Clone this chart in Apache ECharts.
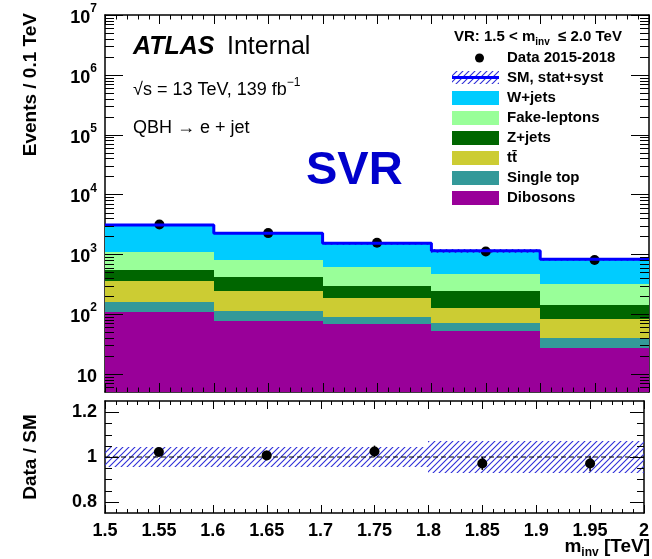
<!DOCTYPE html>
<html><head><meta charset="utf-8">
<script src="https://cdn.jsdelivr.net/npm/echarts@6/dist/echarts.min.js"></script>
<style>html,body{margin:0;padding:0;background:#fff}#c{width:652px;height:559px}</style>
</head><body><div id="c"></div>
<script>
// ---------------- data ----------------
const binEdges    = [1.5, 1.6, 1.7, 1.8, 1.9, 2.0];
const binCenters  = [1.55, 1.65, 1.75, 1.85, 1.95];
const dibosons    = [110, 77, 68, 53, 27];
const singleTop   = [51, 36, 23, 17, 13];
const ttbar       = [201, 134, 93, 58, 42];
const zjets       = [185, 166, 115, 116, 60];
const fakeLeptons = [534, 391, 322, 225, 177];
const wjets       = [2009, 1444, 907, 681, 507];
const dataCounts  = [3158, 2264, 1566, 1117, 802];
const relSyst     = [0.045, 0.045, 0.045, 0.07, 0.07];
const yMajorTicks = [10, 100, 1e3, 1e4, 1e5, 1e6, 1e7];
const ratioTicks  = [0.8, 1.0, 1.2];
const ratioMinorTicks = [0.85, 0.9, 0.95, 1.05, 1.1, 1.15];

const components = [
  {name: 'Dibosons',     vals: dibosons,    color: '#990099'},
  {name: 'Single top',   vals: singleTop,   color: '#339999'},
  {name: 'tt\u0304',     vals: ttbar,       color: '#cccc33'},
  {name: 'Z+jets',       vals: zjets,       color: '#006600'},
  {name: 'Fake-leptons', vals: fakeLeptons, color: '#99ff99'},
  {name: 'W+jets',       vals: wjets,       color: '#00ccff'}
];
const X_MIN = 1.5, X_MAX = 2.0, Y_MIN = 5, Y_MAX = 1e7, R_MIN = 0.75, R_MAX = 1.25;

// axis decoration: log minor ticks and x ticks
const yMinorTicks = [];
for (let e = 0; e < 7; e++) for (let m = 2; m <= 9; m++) {
  const v = m * Math.pow(10, e);
  if (v > Y_MIN && v < Y_MAX) yMinorTicks.push(v);
}
const xMajorTicks = [], xMinorTicks = [];
for (let k = 0; k <= 50; k++) {
  const v = +(X_MIN + k * 0.01).toFixed(2);
  (k % 5 === 0 ? xMajorTicks : xMinorTicks).push(v);
}

// ---------------- helpers ----------------
function hatchCanvas(color, step) {
  const c = document.createElement('canvas'); c.width = step; c.height = step;
  const g = c.getContext('2d'); g.strokeStyle = color; g.lineWidth = 1.1;
  g.beginPath();
  g.moveTo(0, step); g.lineTo(step, 0);
  g.moveTo(-1, 1); g.lineTo(1, -1);
  g.moveTo(step - 1, step + 1); g.lineTo(step + 1, step - 1);
  g.stroke();
  return c;
}
const hatch = {image: hatchCanvas('#2f2fd8', 6), repeat: 'repeat'};
const FONT = '"Liberation Sans", Arial, Helvetica, sans-serif';

function rectRender(fill) {
  return (params, api) => {
    const p0 = api.coord([api.value(0), api.value(3)]);
    const p1 = api.coord([api.value(1), api.value(2)]);
    const x0 = Math.round(p0[0]), x1 = Math.round(p1[0]), y0 = Math.round(p0[1]), y1 = Math.round(p1[1]);
    return {type: 'rect', shape: {x: x0, y: y0, width: x1 - x0, height: y1 - y0}, style: {fill: fill}};
  };
}
function errRender(params, api) {
  const a = api.coord([api.value(0), api.value(1)]);
  const b = api.coord([api.value(0), api.value(2)]);
  return {type: 'line', shape: {x1: a[0], y1: a[1], x2: b[0], y2: b[1]}, style: {stroke: '#000', lineWidth: 1.5}};
}
// ticks: [value, side(0 left,1 right,2 bottom,3 top), length]
function tickRender(xRef, yRef) {
  return (params, api) => {
    const cs = params.coordSys, v = api.value(0), side = api.value(1), len = api.value(2);
    let x1, y1, x2, y2;
    if (side < 2) {
      const p = api.coord([xRef, v]);
      y1 = y2 = Math.round(p[1]) + 0.5;
      if (side === 0) { x1 = cs.x; x2 = cs.x + len; } else { x1 = cs.x + cs.width; x2 = x1 - len; }
    } else {
      const p = api.coord([v, yRef]);
      x1 = x2 = Math.round(p[0]) + 0.5;
      if (side === 2) { y1 = cs.y + cs.height; y2 = y1 - len; } else { y1 = cs.y; y2 = y1 + len; }
    }
    return {type: 'line', shape: {x1, y1, x2, y2}, style: {stroke: '#000', lineWidth: 1}};
  };
}
function tickData(yMaj, yMin, yMajLen, yMinLen, xMajLen, xMinLen) {
  const d = [];
  [0, 1].forEach(s => { yMaj.forEach(v => d.push([v, s, yMajLen])); yMin.forEach(v => d.push([v, s, yMinLen])); });
  [2, 3].forEach(s => { xMajorTicks.forEach(v => d.push([v, s, xMajLen])); xMinorTicks.forEach(v => d.push([v, s, xMinLen])); });
  return d;
}

// stacked rectangles
const totals = binCenters.map(() => 0);
const stackSeries = components.map(comp => {
  const data = comp.vals.map((v, i) => {
    const lo = totals[i] === 0 ? Y_MIN : totals[i];
    totals[i] += v;
    return [binEdges[i], binEdges[i + 1], lo, totals[i]];
  });
  return {type: 'custom', name: comp.name, xAxisIndex: 0, yAxisIndex: 0, clip: true, silent: true,
          encode: {x: [0, 1], y: [2, 3]}, data, renderItem: rectRender(comp.color)};
});

const upperBand = totals.map((t, i) => [binEdges[i], binEdges[i + 1], t * (1 - relSyst[i]), t * (1 + relSyst[i])]);
const ratioBand = totals.map((t, i) => [binEdges[i], binEdges[i + 1], 1 - relSyst[i], 1 + relSyst[i]]);
const stepLine  = totals.map((t, i) => [binEdges[i], t]).concat([[binEdges[5], totals[4]]]);
const dataPts   = dataCounts.map((d, i) => [binCenters[i], d]);
const dataErr   = dataCounts.map((d, i) => [binCenters[i], d - Math.sqrt(d), d + Math.sqrt(d)]);
const ratioPts  = dataCounts.map((d, i) => [binCenters[i], d / totals[i]]);
const ratioErr  = dataCounts.map((d, i) => [binCenters[i], (d - Math.sqrt(d)) / totals[i], (d + Math.sqrt(d)) / totals[i]]);

// ---------------- axes ----------------
const labelStyle = {color: '#000', fontFamily: FONT, fontWeight: 'bold', fontSize: 18};
const frameLine = {show: true, onZero: false, lineStyle: {color: '#000', width: 1.5}};
function xAx(grid, pos, showLabel) {
  return {type: 'value', gridIndex: grid, position: pos, min: X_MIN, max: X_MAX, interval: 0.05,
    axisLine: frameLine, axisTick: {show: false}, minorTick: {show: false}, splitLine: {show: false},
    axisLabel: showLabel ? Object.assign({show: true, margin: 9, hideOverlap: false,
      formatter: v => String(+v.toFixed(2))}, labelStyle) : {show: false}};
}
function logAx(pos, showLabel) {
  return {type: 'log', logBase: 10, gridIndex: 0, position: pos, min: Y_MIN, max: Y_MAX,
    axisLine: frameLine, axisTick: {show: false}, minorTick: {show: false}, splitLine: {show: false},
    axisLabel: showLabel ? {
      show: true, margin: 8, customValues: yMajorTicks,
      formatter: v => { const e = Math.round(Math.log10(v)); return e === 1 ? '{b|10}' : '{b|10}{s|' + e + '}'; },
      rich: {
        b: {fontFamily: FONT, fontWeight: 'bold', fontSize: 18, color: '#000', lineHeight: 24, verticalAlign: 'bottom'},
        s: {fontFamily: FONT, fontWeight: 'bold', fontSize: 12, color: '#000', lineHeight: 14, verticalAlign: 'top'}
      }} : {show: false}};
}
function ratioAx(pos, showLabel) {
  return {type: 'value', gridIndex: 1, position: pos, min: R_MIN, max: R_MAX,
    axisLine: frameLine, axisTick: {show: false}, minorTick: {show: false}, splitLine: {show: false},
    axisLabel: showLabel ? Object.assign({show: true, margin: 8, customValues: ratioTicks,
      formatter: v => String(+(+v).toFixed(2))}, labelStyle) : {show: false}};
}

// ---------------- texts / legend ----------------
const g = [];
function txt(x, y, text, font, fill) {
  return {type: 'text', x: x, y: y, silent: true,
    style: {text: text, font: font, fill: fill || '#000', align: 'left', verticalAlign: 'middle', textAlign: 'left', textVerticalAlign: 'middle'}};
}
g.push(txt(133, 47, 'ATLAS', 'italic bold 25px ' + FONT));
g.push(txt(227, 47, 'Internal', '25px ' + FONT));
g.push({type: 'text', x: 133, y: 88, silent: true, style: {
  text: '{n|\u221As = 13 TeV, 139 fb}{s|\u22121}', align: 'left', verticalAlign: 'middle',
  rich: {n: {font: '18px ' + FONT, fill: '#000', lineHeight: 22, verticalAlign: 'bottom'},
         s: {font: '12px ' + FONT, fill: '#000', lineHeight: 12, verticalAlign: 'top'}}}});
g.push(txt(133, 128, 'QBH \u2192 e + jet', '18px ' + FONT));
g.push(txt(306, 171, 'SVR', 'bold 47px ' + FONT, '#0000cc'));
g.push({type: 'text', x: 31, y: 13, rotation: Math.PI / 2, silent: true,
  style: {text: 'Events / 0.1 TeV', font: 'bold 19px ' + FONT, fill: '#000', align: 'right', verticalAlign: 'middle', textAlign: 'right', textVerticalAlign: 'middle'}});
g.push({type: 'text', x: 31, y: 457, rotation: Math.PI / 2, silent: true,
  style: {text: 'Data / SM', font: 'bold 19px ' + FONT, fill: '#000', align: 'center', verticalAlign: 'middle', textAlign: 'center', textVerticalAlign: 'middle'}});
g.push({type: 'text', x: 650, y: 548, silent: true, style: {
  text: '{n|m}{s|inv}{n| [TeV]}', align: 'right', verticalAlign: 'middle',
  rich: {n: {font: 'bold 19px ' + FONT, fill: '#000', lineHeight: 22, verticalAlign: 'top'},
         s: {font: 'bold 12px ' + FONT, fill: '#000', lineHeight: 14, verticalAlign: 'bottom'}}}});
g.push({type: 'text', x: 454, y: 38, silent: true, style: {
  text: '{n|VR: 1.5 < m}{s|inv}{n|  \u2264 2.0 TeV}', align: 'left', verticalAlign: 'middle',
  rich: {n: {font: 'bold 15px ' + FONT, fill: '#000', lineHeight: 18, verticalAlign: 'top'},
         s: {font: 'bold 10px ' + FONT, fill: '#000', lineHeight: 12, verticalAlign: 'bottom'}}}});
const legX = 452, legW = 47, legH = 14, legTextX = 507;
g.push({type: 'circle', silent: true, shape: {cx: legX + legW / 2 + 4, cy: 58, r: 4.5}, style: {fill: '#000'}});
g.push(txt(legTextX, 58, 'Data 2015-2018', 'bold 15px ' + FONT));
g.push({type: 'rect', silent: true, shape: {x: legX, y: 71, width: legW, height: 13}, style: {fill: hatch}});
g.push({type: 'line', silent: true, shape: {x1: legX, y1: 77.5, x2: legX + legW, y2: 77.5}, style: {stroke: '#0000ff', lineWidth: 3}});
g.push(txt(legTextX, 78, 'SM, stat+syst', 'bold 15px ' + FONT));
components.slice().reverse().forEach((c, k) => {
  const cy = 98 + 20 * k;
  g.push({type: 'rect', silent: true, shape: {x: legX, y: cy - legH / 2, width: legW, height: legH}, style: {fill: c.color}});
  g.push(txt(legTextX, cy, c.name, 'bold 15px ' + FONT));
});

// ---------------- option ----------------
const option = {
  animation: false,
  backgroundColor: '#fff',
  grid: [
    {left: 105, top: 15, width: 544, height: 377},
    {left: 105, top: 401, width: 544, height: 112}
  ],
  xAxis: [xAx(0, 'bottom', false), xAx(0, 'top', false), xAx(1, 'bottom', true), xAx(1, 'top', false)],
  yAxis: [logAx('left', true), logAx('right', false), ratioAx('left', true), ratioAx('right', false)],
  series: stackSeries.concat([
    {type: 'custom', name: 'SM band', xAxisIndex: 0, yAxisIndex: 0, clip: true, silent: true,
     encode: {x: [0, 1], y: [2, 3]}, data: upperBand, renderItem: rectRender(hatch)},
    {type: 'line', name: 'SM', xAxisIndex: 0, yAxisIndex: 0, step: 'end', symbol: 'none', silent: true,
     data: stepLine, lineStyle: {color: '#0000ff', width: 3}, clip: true},
    {type: 'custom', name: 'Data err', xAxisIndex: 0, yAxisIndex: 0, silent: true,
     encode: {x: 0, y: [1, 2]}, data: dataErr, renderItem: errRender},
    {type: 'scatter', name: 'Data', xAxisIndex: 0, yAxisIndex: 0, symbol: 'circle', symbolSize: 10, silent: true,
     data: dataPts, itemStyle: {color: '#000', opacity: 1}},
    {type: 'custom', name: 'upper ticks', xAxisIndex: 0, yAxisIndex: 0, silent: true, clip: false, z: 10,
     encode: {x: 0, y: 0}, data: tickData(yMajorTicks, yMinorTicks, 18, 9, 9, 4.5), renderItem: tickRender(X_MIN, 100)},
    // ratio panel
    {type: 'custom', name: 'Ratio band', xAxisIndex: 2, yAxisIndex: 2, clip: true, silent: true,
     encode: {x: [0, 1], y: [2, 3]}, data: ratioBand, renderItem: rectRender(hatch)},
    {type: 'line', name: 'unity', xAxisIndex: 2, yAxisIndex: 2, symbol: 'none', silent: true,
     data: [[X_MIN, 1], [X_MAX, 1]], lineStyle: {color: '#000', width: 1, type: [5, 3]}},
    {type: 'custom', name: 'Ratio err', xAxisIndex: 2, yAxisIndex: 2, silent: true,
     encode: {x: 0, y: [1, 2]}, data: ratioErr, renderItem: errRender},
    {type: 'scatter', name: 'Ratio', xAxisIndex: 2, yAxisIndex: 2, symbol: 'circle', symbolSize: 10, silent: true,
     data: ratioPts, itemStyle: {color: '#000', opacity: 1}},
    {type: 'custom', name: 'ratio ticks', xAxisIndex: 2, yAxisIndex: 2, silent: true, clip: false, z: 10,
     encode: {x: 0, y: 0}, data: tickData(ratioTicks, ratioMinorTicks, 14, 7, 8, 4), renderItem: tickRender(X_MIN, 1)}
  ]),
  graphic: g
};
const chart = echarts.init(document.getElementById('c'), null, {renderer: 'canvas', width: 652, height: 559});
chart.setOption(option);
</script></body></html>
